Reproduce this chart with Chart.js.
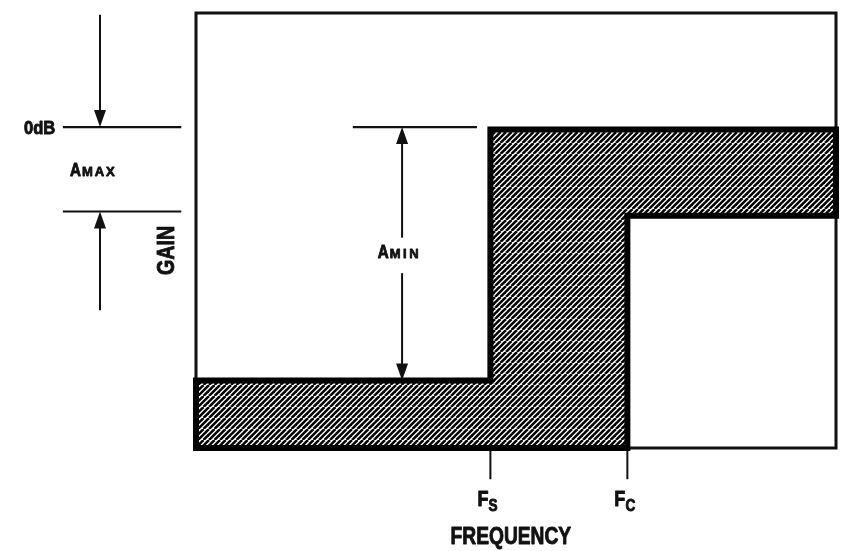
<!DOCTYPE html>
<html>
<head>
<meta charset="utf-8">
<title>Filter gain mask</title>
<script src="https://cdn.jsdelivr.net/npm/chart.js@4/dist/chart.umd.min.js"></script>
<style>
    html, body { margin: 0; padding: 0; background: #fff; }
    canvas { display: block; }
</style>
</head>
<body>
<canvas id="maskChart" width="841" height="551"></canvas>
<script>
// frequency axis runs 0..100 (arbitrary units), gain axis in dB-like units
const freqRange = [0, 100];
const gainRange = [-38, 13.5];

// hatched mask polygon (closed)
const maskFreq = [0, 46, 46, 100, 100, 67.4, 67.4, 0, 0];
const maskGain = [-30, -30, -0.3, -0.3, -10.5, -10.5, -38, -38, -30];

// band edges on the frequency axis
const edgeFreqs  = [46, 67.4];
const edgeLabels = ['F', 'F'];
const edgeSubs   = ['S', 'C'];

// gain reference levels
const refLevels = [0, -10];          // 0dB and A_MAX
const refLabels = ['0dB', ''];
const aminRange = [0, -30];          // A_MIN arrow span

const axisLabels = { x: 'FREQUENCY', y: 'GAIN' };

const FONT = '"Liberation Sans", Arial, sans-serif';

function hatchPattern() {
    const s = 11;
    const c = document.createElement('canvas');
    c.width = s; c.height = s;
    const g = c.getContext('2d');
    g.fillStyle = '#fff';
    g.fillRect(0, 0, s, s);
    g.strokeStyle = '#000';
    g.lineWidth = 2.5;
    for (const k of [-5.5, 0, 5.5, 11, 16.5, 22]) {
        g.beginPath();
        g.moveTo(k, 0);
        g.lineTo(k - s, s);
        g.stroke();
    }
    return document.getElementById('maskChart').getContext('2d').createPattern(c, 'repeat');
}

function text(ctx, str, x, y, size, opts = {}) {
    ctx.save();
    ctx.font = 'bold ' + size + 'px ' + FONT;
    ctx.letterSpacing = (opts.spacing || 0) + 'px';
    ctx.fillStyle = '#111';
    ctx.strokeStyle = '#111';
    ctx.lineWidth = opts.heavy || 0.9;
    ctx.lineJoin = 'round';
    ctx.textBaseline = 'alphabetic';
    ctx.textAlign = 'left';
    const sx = opts.scaleX || 1;
    ctx.translate(x, y);
    if (opts.rotate) ctx.rotate(opts.rotate);
    ctx.scale(sx, 1);
    let w = ctx.measureText(str).width;
    let dx = 0;
    if (opts.align === 'center') dx = -w / 2;
    if (opts.align === 'right') dx = -w;
    ctx.fillText(str, dx, 0);
    ctx.strokeText(str, dx, 0);
    ctx.restore();
    return w * sx;
}

function arrowHead(ctx, x, yTip, dir) {
    // dir = 1 points down, -1 points up
    const len = 17, half = 6;
    ctx.beginPath();
    ctx.moveTo(x, yTip);
    ctx.lineTo(x - half, yTip - dir * len);
    ctx.lineTo(x + half, yTip - dir * len);
    ctx.closePath();
    ctx.fill();
}

function vline(ctx, x, y1, y2, w) {
    ctx.lineWidth = w || 2;
    ctx.beginPath();
    ctx.moveTo(x, y1);
    ctx.lineTo(x, y2);
    ctx.stroke();
}

function hline(ctx, x1, x2, y, w) {
    ctx.lineWidth = w || 2;
    ctx.beginPath();
    ctx.moveTo(x1, y);
    ctx.lineTo(x2, y);
    ctx.stroke();
}

const framePlugin = {
    id: 'frame',
    beforeDatasetsDraw(chart) {
        const { ctx, chartArea: a } = chart;
        ctx.save();
        ctx.strokeStyle = '#111';
        ctx.lineWidth = 3;
        ctx.strokeRect(a.left, a.top, a.right - a.left, a.bottom - a.top);
        ctx.restore();
    }
};

const notesPlugin = {
    id: 'notes',
    afterDatasetsDraw(chart) {
        const { ctx } = chart;
        const xs = chart.scales.x, ys = chart.scales.y;
        const X = v => xs.getPixelForValue(v);
        const Y = v => ys.getPixelForValue(v);

        ctx.save();
        ctx.strokeStyle = '#111';
        ctx.fillStyle = '#111';
        ctx.lineCap = 'butt';

        /* ---- left side: 0dB / A_MAX ---- */
        refLevels.forEach(lv => hline(ctx, X(-20.8), X(-2.3), Y(lv), 2.2));
        const ax = X(-15);
        vline(ctx, ax, Y(13.3), Y(refLevels[0]) - 10, 2);
        arrowHead(ctx, ax, Y(refLevels[0]), 1);
        vline(ctx, ax, Y(-21.7), Y(refLevels[1]) + 10, 2);
        arrowHead(ctx, ax, Y(refLevels[1]), -1);

        text(ctx, refLabels[0], X(-22.0), Y(refLevels[0]) + 6.5, 18, { align: 'right', scaleX: 0.92 });
        let w = text(ctx, 'A', X(-19.7), Y(-5.8), 19, { scaleX: 0.8 });
        text(ctx, 'MAX', X(-19.7) + w + 1, Y(-5.8), 13, { spacing: 2, heavy: 0.8 });

        text(ctx, axisLabels.y, X(-3.5), Y(-14.6), 24, { rotate: -Math.PI / 2, align: 'center', scaleX: 0.82 });

        /* ---- A_MIN arrow ---- */
        hline(ctx, X(24.5), X(43.9), Y(aminRange[0]), 2.2);
        const mx = X(32.2);
        vline(ctx, mx, Y(aminRange[0]) + 10, Y(-13.1), 2);
        vline(ctx, mx, Y(-17.3), Y(aminRange[1]) - 10, 2);
        arrowHead(ctx, mx, Y(aminRange[0]), -1);
        arrowHead(ctx, mx, Y(aminRange[1]), 1);
        w = text(ctx, 'A', X(28.4), Y(-15.5), 19, { scaleX: 0.8 });
        text(ctx, 'MIN', X(28.4) + w + 1, Y(-15.5), 13, { spacing: 2.5, heavy: 0.8 });

        /* ---- frequency edges ---- */
        edgeFreqs.forEach((f, i) => {
            const px = X(f);
            vline(ctx, px, Y(-38.3), Y(-41.7), 2);
            const fw = text(ctx, edgeLabels[i], px - 13, Y(-38) + 58, 22, { scaleX: 0.82 });
            text(ctx, edgeSubs[i], px - 13 + fw, Y(-38) + 63, 16, { scaleX: 0.85 });
        });

        text(ctx, axisLabels.x, X(49.2), Y(-38) + 96, 24, { align: 'center', scaleX: 0.8 });

        ctx.restore();
    }
};

new Chart(document.getElementById('maskChart'), {
    type: 'scatter',
    data: {
        datasets: [{
            label: 'Gain mask',
            data: maskFreq.map((f, i) => ({ x: f, y: maskGain[i] })),
            showLine: true,
            fill: 'shape',
            backgroundColor: hatchPattern(),
            borderColor: '#000',
            borderWidth: 6,
            borderJoinStyle: 'miter',
            borderCapStyle: 'square',
            pointRadius: 0,
            tension: 0,
            clip: false
        }]
    },
    options: {
        responsive: false,
        animation: false,
        events: [],
        layout: {
            padding: { left: 196, top: 13, right: 5, bottom: 103 }
        },
        scales: {
            x: { type: 'linear', min: freqRange[0], max: freqRange[1], display: false },
            y: { type: 'linear', min: gainRange[0], max: gainRange[1], display: false }
        },
        plugins: {
            legend: { display: false },
            tooltip: { enabled: false }
        }
    },
    plugins: [framePlugin, notesPlugin]
});
</script>
</body>
</html>
